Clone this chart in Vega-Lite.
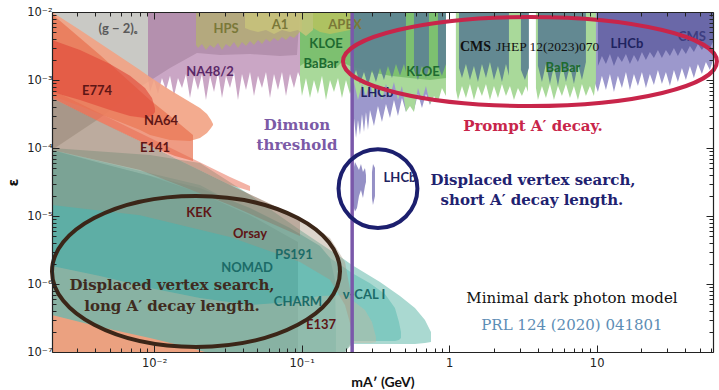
{
"$schema": "https://vega.github.io/schema/vega-lite/v6.json",
"width": 661, "height": 340,
"autosize": {"type": "none"},
"padding": {"left": 52, "top": 12, "right": 6, "bottom": 38},
"background": "white",
"config": {"view": {"stroke": null}},
"datasets": {"regions": [
{"id":"vcal_out","x":0.00203,"y":1.0e-4,"y2":1e-7},{"id":"vcal_out","x":0.009374,"y":7.89e-5,"y2":1e-7},{"id":"vcal_out","x":0.02046,"y":6.02e-5,"y2":1e-7},{"id":"vcal_out","x":0.04466,"y":2.03e-5,"y2":1e-7},{"id":"vcal_out","x":0.09747,"y":6.22e-6,"y2":1e-7},{"id":"vcal_out","x":0.1967,"y":2.25e-6,"y2":1e-7},{"id":"vcal_out","x":0.2194,"y":1.9e-6,"y2":1.31e-7},{"id":"vcal_out","x":0.3397,"y":1.07e-6,"y2":1.31e-7},{"id":"vcal_out","x":0.4642,"y":6.66e-7,"y2":1.31e-7},{"id":"vcal_out","x":0.5866,"y":4.44e-7,"y2":1.31e-7},{"id":"vcal_out","x":0.6856,"y":2.96e-7,"y2":1.36e-7},{"id":"vcal_out","x":0.753,"y":1.97e-7,"y2":1.4e-7},
{"id":"vcal_in","x":0.00203,"y":9.35e-5,"y2":1e-7},{"id":"vcal_in","x":0.02046,"y":2.86e-5,"y2":1e-7},{"id":"vcal_in","x":0.09747,"y":4.75e-6,"y2":1e-7},{"id":"vcal_in","x":0.1967,"y":1.72e-6,"y2":1e-7},{"id":"vcal_in","x":0.2194,"y":1.45e-6,"y2":1.45e-7},{"id":"vcal_in","x":0.2906,"y":1.03e-6,"y2":1.45e-7},{"id":"vcal_in","x":0.3672,"y":7.13e-7,"y2":1.45e-7},{"id":"vcal_in","x":0.4292,"y":4.44e-7,"y2":1.45e-7},{"id":"vcal_in","x":0.4569,"y":2.76e-7,"y2":1.5e-7},{"id":"vcal_in","x":0.4715,"y":1.97e-7,"y2":1.61e-7},
{"id":"charm","x":0.00203,"y":8.73e-5,"y2":1e-7},{"id":"charm","x":0.02046,"y":2.58e-5,"y2":1e-7},{"id":"charm","x":0.04466,"y":1.31e-5,"y2":1e-7},{"id":"charm","x":0.08338,"y":6.66e-6,"y2":1e-7},{"id":"charm","x":0.1332,"y":3.62e-6,"y2":1e-7},{"id":"charm","x":0.1557,"y":2.41e-6,"y2":1e-7},{"id":"charm","x":0.1683,"y":1.15e-6,"y2":1e-7},{"id":"charm","x":0.1709,"y":2.11e-7,"y2":1e-7},
{"id":"teal_main","x":0.00203,"y":9.35e-5,"y2":1e-7},{"id":"teal_main","x":0.004295,"y":6.02e-5,"y2":1e-7},{"id":"teal_main","x":0.009374,"y":3.88e-5,"y2":1e-7},{"id":"teal_main","x":0.02046,"y":2.18e-5,"y2":1e-7},{"id":"teal_main","x":0.04466,"y":1.03e-5,"y2":1e-7},{"id":"teal_main","x":0.07133,"y":5.82e-6,"y2":1e-7},{"id":"teal_main","x":0.09446,"y":4.15e-6,"y2":1e-7},
{"id":"e137","x":0.00203,"y":1.84e-6,"y2":1e-7},{"id":"e137","x":0.004295,"y":1.31e-6,"y2":1e-7},{"id":"e137","x":0.009374,"y":8.73e-7,"y2":1e-7},{"id":"e137","x":0.02046,"y":6.22e-7,"y2":1e-7},{"id":"e137","x":0.04466,"y":4.91e-7,"y2":1e-7},{"id":"e137","x":0.08338,"y":5.44e-7,"y2":1e-7},{"id":"e137","x":0.1332,"y":6.66e-7,"y2":1e-7},{"id":"e137","x":0.1967,"y":6.89e-7,"y2":1e-7},{"id":"e137","x":0.2194,"y":5.82e-7,"y2":1.36e-7},{"id":"e137","x":0.2688,"y":4.15e-7,"y2":1.36e-7},{"id":"e137","x":0.2998,"y":2.76e-7,"y2":1.36e-7},{"id":"e137","x":0.3191,"y":1.66e-7,"y2":1.4e-7},
{"id":"salmon","x":0.00203,"y":3.5e-7,"y2":1e-7},{"id":"salmon","x":0.004295,"y":2.33e-7,"y2":1e-7},{"id":"salmon","x":0.009374,"y":1.61e-7,"y2":1e-7},{"id":"salmon","x":0.0175,"y":1.15e-7,"y2":1e-7},{"id":"salmon","x":0.02211,"y":1e-7,"y2":1e-7},
{"id":"g2","x":0.00203,"y":0.01,"y2":9.35e-5},{"id":"g2","x":0.004295,"y":0.01,"y2":2.76e-4},{"id":"g2","x":0.00802,"y":0.01,"y2":7.89e-4},{"id":"g2","x":0.009086,"y":0.01,"y2":9.35e-4},{"id":"g2","x":0.01281,"y":0.01,"y2":1.5e-3},{"id":"g2","x":0.01952,"y":0.01,"y2":2.49e-3},{"id":"g2","x":0.02796,"y":0.01,"y2":2.33e-3},{"id":"g2","x":0.04466,"y":0.01,"y2":2.41e-3},{"id":"g2","x":0.07133,"y":0.01,"y2":2.25e-3},{"id":"g2","x":0.093,"y":0.01,"y2":2.33e-3},{"id":"g2","x":0.09747,"y":0.01,"y2":0.01},
{"id":"tanband","x":0.00203,"y":5.44e-4,"y2":1.45e-5},{"id":"tanband","x":0.00802,"y":1.27e-4,"y2":1.03e-5},{"id":"tanband","x":0.03268,"y":2.86e-5,"y2":4.91e-6},{"id":"tanband","x":0.09747,"y":9.35e-6,"y2":2.11e-6},{"id":"tanband","x":0.1557,"y":4.75e-6,"y2":1.15e-6},{"id":"tanband","x":0.1967,"y":2.11e-6,"y2":4.91e-7},{"id":"tanband","x":0.2194,"y":5.82e-7,"y2":2.11e-7},
{"id":"kek","x":0.00203,"y":5.44e-4,"y2":9.35e-5},{"id":"kek","x":0.00802,"y":1.27e-4,"y2":4.75e-5},{"id":"kek","x":0.03268,"y":2.86e-5,"y2":1.45e-5},{"id":"kek","x":0.09747,"y":9.35e-6,"y2":5.08e-6},
{"id":"na48","x":0.009086,"y":0.01,"y2":1.07e-3},{"id":"na48","x":0.009374,"y":0.01,"y2":6.66e-4},{"id":"na48","x":0.009978,"y":0.01,"y2":1.0e-3},{"id":"na48","x":0.01062,"y":0.01,"y2":6.22e-4},{"id":"na48","x":0.0113,"y":0.01,"y2":1.07e-3},{"id":"na48","x":0.01203,"y":0.01,"y2":7.13e-4},{"id":"na48","x":0.01281,"y":0.01,"y2":1.15e-3},{"id":"na48","x":0.01363,"y":0.01,"y2":5.82e-4},{"id":"na48","x":0.01451,"y":0.01,"y2":1.07e-3},{"id":"na48","x":0.01545,"y":0.01,"y2":7.63e-4},{"id":"na48","x":0.01644,"y":0.01,"y2":1.23e-3},{"id":"na48","x":0.0175,"y":0.01,"y2":5.44e-4},{"id":"na48","x":0.01863,"y":0.01,"y2":1.15e-3},{"id":"na48","x":0.01983,"y":0.01,"y2":7.13e-4},{"id":"na48","x":0.0211,"y":0.01,"y2":1.23e-3},{"id":"na48","x":0.02246,"y":0.01,"y2":5.08e-4},{"id":"na48","x":0.02392,"y":0.01,"y2":1.15e-3},{"id":"na48","x":0.02546,"y":0.01,"y2":6.66e-4},{"id":"na48","x":0.0271,"y":0.01,"y2":1.31e-3},{"id":"na48","x":0.02884,"y":0.01,"y2":5.44e-4},{"id":"na48","x":0.0307,"y":0.01,"y2":1.15e-3},{"id":"na48","x":0.03268,"y":0.01,"y2":7.63e-4},{"id":"na48","x":0.03478,"y":0.01,"y2":1.31e-3},{"id":"na48","x":0.03702,"y":0.01,"y2":5.08e-4},{"id":"na48","x":0.03941,"y":0.01,"y2":1.23e-3},{"id":"na48","x":0.04195,"y":0.01,"y2":7.13e-4},{"id":"na48","x":0.04466,"y":0.01,"y2":1.31e-3},{"id":"na48","x":0.04753,"y":0.01,"y2":5.82e-4},{"id":"na48","x":0.05059,"y":0.01,"y2":1.15e-3},{"id":"na48","x":0.05385,"y":0.01,"y2":7.63e-4},{"id":"na48","x":0.05732,"y":0.01,"y2":1.31e-3},{"id":"na48","x":0.06102,"y":0.01,"y2":5.44e-4},{"id":"na48","x":0.06494,"y":0.01,"y2":1.23e-3},{"id":"na48","x":0.06913,"y":0.01,"y2":7.13e-4},{"id":"na48","x":0.07358,"y":0.01,"y2":1.31e-3},{"id":"na48","x":0.07832,"y":0.01,"y2":5.82e-4},{"id":"na48","x":0.08338,"y":0.01,"y2":1.23e-3},{"id":"na48","x":0.08874,"y":0.01,"y2":7.63e-4},{"id":"na48","x":0.09446,"y":0.01,"y2":1.31e-3},{"id":"na48","x":0.1005,"y":0.01,"y2":9.35e-4},{"id":"na48","x":0.107,"y":0.01,"y2":1.4e-3},
{"id":"lhcb_light","seg":"a","x":0.2194,"y":0.01,"y2":1.31e-4},{"id":"lhcb_light","seg":"a","x":0.2264,"y":0.01,"y2":2.76e-4},{"id":"lhcb_light","seg":"a","x":0.2337,"y":0.01,"y2":1.4e-4},{"id":"lhcb_light","seg":"a","x":0.241,"y":0.01,"y2":2.58e-4},{"id":"lhcb_light","seg":"a","x":0.2486,"y":0.01,"y2":1.55e-4},{"id":"lhcb_light","seg":"a","x":0.2565,"y":0.01,"y2":3.16e-4},{"id":"lhcb_light","seg":"a","x":0.2647,"y":0.01,"y2":1.72e-4},{"id":"lhcb_light","seg":"a","x":0.273,"y":0.01,"y2":3.38e-4},{"id":"lhcb_light","seg":"a","x":0.2817,"y":0.01,"y2":1.84e-4},{"id":"lhcb_light","seg":"a","x":0.2906,"y":0.01,"y2":3.62e-4},{"id":"lhcb_light","seg":"a","x":0.3093,"y":0.01,"y2":2.11e-4},{"id":"lhcb_light","seg":"a","x":0.3292,"y":0.01,"y2":4.15e-4},{"id":"lhcb_light","seg":"a","x":0.3504,"y":0.01,"y2":2.41e-4},{"id":"lhcb_light","seg":"a","x":0.373,"y":0.01,"y2":4.44e-4},{"id":"lhcb_light","seg":"a","x":0.3971,"y":0.01,"y2":2.76e-4},{"id":"lhcb_light","seg":"a","x":0.4226,"y":0.01,"y2":5.08e-4},{"id":"lhcb_light","seg":"a","x":0.4498,"y":0.01,"y2":2.96e-4},{"id":"lhcb_light","seg":"a","x":0.4788,"y":0.01,"y2":5.44e-4},{"id":"lhcb_light","seg":"a","x":0.5097,"y":0.01,"y2":3.38e-4},{"id":"lhcb_light","seg":"a","x":0.5426,"y":0.01,"y2":5.82e-4},{"id":"lhcb_light","seg":"a","x":0.5775,"y":0.01,"y2":3.62e-4},{"id":"lhcb_light","seg":"a","x":0.6147,"y":0.01,"y2":6.22e-4},{"id":"lhcb_light","seg":"a","x":0.6543,"y":0.01,"y2":3.88e-4},{"id":"lhcb_light","seg":"a","x":0.6964,"y":0.01,"y2":6.22e-4},{"id":"lhcb_light","seg":"a","x":0.7413,"y":0.01,"y2":4.29e-4},{"id":"lhcb_light","seg":"a","x":0.8666,"y":0.01,"y2":1.0e-3},{"id":"lhcb_light","seg":"a","x":0.9515,"y":0.01,"y2":1.0e-3},
{"id":"lhcb_light","seg":"b","x":1.112,"y":0.01,"y2":1.0e-3},{"id":"lhcb_light","seg":"b","x":3.422,"y":0.01,"y2":1.0e-3},
{"id":"lhcb_light","seg":"c","x":3.877,"y":0.01,"y2":1.0e-3},{"id":"lhcb_light","seg":"c","x":9.586,"y":0.01,"y2":1.0e-3},{"id":"lhcb_light","seg":"c","x":10.2,"y":0.01,"y2":6.66e-4},{"id":"lhcb_light","seg":"c","x":10.86,"y":0.01,"y2":1.15e-3},{"id":"lhcb_light","seg":"c","x":11.56,"y":0.01,"y2":7.13e-4},{"id":"lhcb_light","seg":"c","x":12.31,"y":0.01,"y2":1.23e-3},{"id":"lhcb_light","seg":"c","x":13.1,"y":0.01,"y2":6.66e-4},{"id":"lhcb_light","seg":"c","x":13.94,"y":0.01,"y2":1.15e-3},{"id":"lhcb_light","seg":"c","x":14.84,"y":0.01,"y2":7.63e-4},{"id":"lhcb_light","seg":"c","x":15.8,"y":0.01,"y2":1.31e-3},{"id":"lhcb_light","seg":"c","x":16.81,"y":0.01,"y2":7.13e-4},{"id":"lhcb_light","seg":"c","x":17.9,"y":0.01,"y2":1.23e-3},{"id":"lhcb_light","seg":"c","x":19.05,"y":0.01,"y2":8.16e-4},{"id":"lhcb_light","seg":"c","x":20.28,"y":0.01,"y2":1.31e-3},{"id":"lhcb_light","seg":"c","x":21.58,"y":0.01,"y2":7.63e-4},{"id":"lhcb_light","seg":"c","x":22.97,"y":0.01,"y2":1.23e-3},{"id":"lhcb_light","seg":"c","x":24.45,"y":0.01,"y2":8.44e-4},{"id":"lhcb_light","seg":"c","x":26.03,"y":0.01,"y2":1.4e-3},{"id":"lhcb_light","seg":"c","x":27.7,"y":0.01,"y2":8.73e-4},{"id":"lhcb_light","seg":"c","x":29.49,"y":0.01,"y2":1.31e-3},{"id":"lhcb_light","seg":"c","x":31.39,"y":0.01,"y2":8.16e-4},{"id":"lhcb_light","seg":"c","x":33.41,"y":0.01,"y2":1.4e-3},{"id":"lhcb_light","seg":"c","x":35.56,"y":0.01,"y2":9.35e-4},{"id":"lhcb_light","seg":"c","x":37.85,"y":0.01,"y2":1.5e-3},{"id":"lhcb_light","seg":"c","x":40.29,"y":0.01,"y2":1.0e-3},{"id":"lhcb_light","seg":"c","x":42.89,"y":0.01,"y2":1.61e-3},{"id":"lhcb_light","seg":"c","x":45.65,"y":0.01,"y2":1.07e-3},{"id":"lhcb_light","seg":"c","x":48.59,"y":0.01,"y2":1.72e-3},{"id":"lhcb_light","seg":"c","x":51.72,"y":0.01,"y2":1.23e-3},{"id":"lhcb_light","seg":"c","x":55.05,"y":0.01,"y2":1.84e-3},{"id":"lhcb_light","seg":"c","x":58.6,"y":0.01,"y2":1.4e-3},{"id":"lhcb_light","seg":"c","x":61.5,"y":0.01,"y2":1.97e-3},
{"id":"babar","seg":"a","x":0.09747,"y":0.01,"y2":1.0e-3},{"id":"babar","seg":"a","x":0.1005,"y":0.01,"y2":5.82e-4},{"id":"babar","seg":"a","x":0.107,"y":0.01,"y2":1.07e-3},{"id":"babar","seg":"a","x":0.1139,"y":0.01,"y2":5.44e-4},{"id":"babar","seg":"a","x":0.1212,"y":0.01,"y2":1.0e-3},{"id":"babar","seg":"a","x":0.129,"y":0.01,"y2":6.22e-4},{"id":"babar","seg":"a","x":0.1374,"y":0.01,"y2":1.15e-3},{"id":"babar","seg":"a","x":0.1462,"y":0.01,"y2":5.08e-4},{"id":"babar","seg":"a","x":0.1557,"y":0.01,"y2":1.0e-3},{"id":"babar","seg":"a","x":0.1657,"y":0.01,"y2":6.66e-4},{"id":"babar","seg":"a","x":0.1764,"y":0.01,"y2":1.07e-3},{"id":"babar","seg":"a","x":0.1877,"y":0.01,"y2":5.44e-4},{"id":"babar","seg":"a","x":0.1998,"y":0.01,"y2":1.0e-3},{"id":"babar","seg":"a","x":0.2127,"y":0.01,"y2":6.22e-4},{"id":"babar","seg":"a","x":0.2264,"y":0.01,"y2":9.35e-4},{"id":"babar","seg":"a","x":0.241,"y":0.01,"y2":5.08e-4},{"id":"babar","seg":"a","x":0.2565,"y":0.01,"y2":8.73e-4},{"id":"babar","seg":"a","x":0.273,"y":0.01,"y2":5.82e-4},{"id":"babar","seg":"a","x":0.2906,"y":0.01,"y2":9.35e-4},{"id":"babar","seg":"a","x":0.3093,"y":0.01,"y2":5.44e-4},{"id":"babar","seg":"a","x":0.3292,"y":0.01,"y2":8.73e-4},{"id":"babar","seg":"a","x":0.3504,"y":0.01,"y2":5.08e-4},{"id":"babar","seg":"a","x":0.373,"y":0.01,"y2":8.73e-4},{"id":"babar","seg":"a","x":0.3971,"y":0.01,"y2":5.82e-4},{"id":"babar","seg":"a","x":0.4226,"y":0.01,"y2":9.35e-4},{"id":"babar","seg":"a","x":0.4498,"y":0.01,"y2":5.08e-4},{"id":"babar","seg":"a","x":0.4788,"y":0.01,"y2":8.16e-4},{"id":"babar","seg":"a","x":0.5097,"y":0.01,"y2":3.38e-4},{"id":"babar","seg":"a","x":0.5426,"y":0.01,"y2":4.15e-4},{"id":"babar","seg":"a","x":0.5775,"y":0.01,"y2":3.38e-4},{"id":"babar","seg":"a","x":0.6147,"y":0.01,"y2":7.63e-4},{"id":"babar","seg":"a","x":0.6543,"y":0.01,"y2":5.08e-4},{"id":"babar","seg":"a","x":0.6964,"y":0.01,"y2":8.16e-4},{"id":"babar","seg":"a","x":0.7413,"y":0.01,"y2":4.44e-4},{"id":"babar","seg":"a","x":0.789,"y":0.01,"y2":5.82e-4},{"id":"babar","seg":"a","x":0.8399,"y":0.01,"y2":4.75e-4},{"id":"babar","seg":"a","x":0.8939,"y":0.01,"y2":7.63e-4},{"id":"babar","seg":"a","x":0.9515,"y":0.01,"y2":5.82e-4},
{"id":"babar","seg":"b","x":1.112,"y":0.01,"y2":7.13e-4},{"id":"babar","seg":"b","x":1.148,"y":0.01,"y2":5.08e-4},{"id":"babar","seg":"b","x":1.222,"y":0.01,"y2":8.16e-4},{"id":"babar","seg":"b","x":1.3,"y":0.01,"y2":5.44e-4},{"id":"babar","seg":"b","x":1.384,"y":0.01,"y2":8.73e-4},{"id":"babar","seg":"b","x":1.473,"y":0.01,"y2":5.08e-4},{"id":"babar","seg":"b","x":1.568,"y":0.01,"y2":8.16e-4},{"id":"babar","seg":"b","x":1.669,"y":0.01,"y2":5.82e-4},{"id":"babar","seg":"b","x":1.777,"y":0.01,"y2":8.73e-4},{"id":"babar","seg":"b","x":1.891,"y":0.01,"y2":5.08e-4},{"id":"babar","seg":"b","x":2.013,"y":0.01,"y2":8.16e-4},{"id":"babar","seg":"b","x":2.143,"y":0.01,"y2":5.44e-4},{"id":"babar","seg":"b","x":2.281,"y":0.01,"y2":8.73e-4},{"id":"babar","seg":"b","x":2.428,"y":0.01,"y2":5.82e-4},{"id":"babar","seg":"b","x":2.584,"y":0.01,"y2":8.16e-4},{"id":"babar","seg":"b","x":2.751,"y":0.01,"y2":5.08e-4},{"id":"babar","seg":"b","x":2.928,"y":0.01,"y2":7.63e-4},{"id":"babar","seg":"b","x":3.116,"y":0.01,"y2":5.82e-4},{"id":"babar","seg":"b","x":3.317,"y":0.01,"y2":8.16e-4},{"id":"babar","seg":"b","x":3.422,"y":0.01,"y2":6.66e-4},
{"id":"babar","seg":"c","x":3.877,"y":0.01,"y2":7.63e-4},{"id":"babar","seg":"c","x":4.0,"y":0.01,"y2":5.08e-4},{"id":"babar","seg":"c","x":4.258,"y":0.01,"y2":8.16e-4},{"id":"babar","seg":"c","x":4.532,"y":0.01,"y2":5.44e-4},{"id":"babar","seg":"c","x":4.824,"y":0.01,"y2":8.73e-4},{"id":"babar","seg":"c","x":5.135,"y":0.01,"y2":5.08e-4},{"id":"babar","seg":"c","x":5.466,"y":0.01,"y2":8.16e-4},{"id":"babar","seg":"c","x":5.818,"y":0.01,"y2":5.82e-4},{"id":"babar","seg":"c","x":6.193,"y":0.01,"y2":8.73e-4},{"id":"babar","seg":"c","x":6.592,"y":0.01,"y2":5.44e-4},{"id":"babar","seg":"c","x":7.016,"y":0.01,"y2":8.16e-4},{"id":"babar","seg":"c","x":7.468,"y":0.01,"y2":5.08e-4},{"id":"babar","seg":"c","x":7.949,"y":0.01,"y2":8.73e-4},{"id":"babar","seg":"c","x":8.461,"y":0.01,"y2":5.82e-4},{"id":"babar","seg":"c","x":9.006,"y":0.01,"y2":8.16e-4},{"id":"babar","seg":"c","x":9.586,"y":0.01,"y2":5.82e-4},{"id":"babar","seg":"c","x":9.89,"y":0.01,"y2":1.0e-3},
{"id":"kloe","x":0.09747,"y":0.01,"y2":1.61e-3},{"id":"kloe","x":0.107,"y":0.01,"y2":1.84e-3},{"id":"kloe","x":0.1175,"y":0.01,"y2":1.5e-3},{"id":"kloe","x":0.129,"y":0.01,"y2":1.97e-3},{"id":"kloe","x":0.1418,"y":0.01,"y2":1.61e-3},{"id":"kloe","x":0.1557,"y":0.01,"y2":1.84e-3},{"id":"kloe","x":0.1709,"y":0.01,"y2":1.5e-3},{"id":"kloe","x":0.1877,"y":0.01,"y2":1.84e-3},{"id":"kloe","x":0.2127,"y":0.01,"y2":1.61e-3},{"id":"kloe","x":0.2906,"y":0.01,"y2":1.31e-3},{"id":"kloe","x":0.3971,"y":0.01,"y2":1.15e-3},{"id":"kloe","x":0.5426,"y":0.01,"y2":1.07e-3},{"id":"kloe","x":0.7413,"y":0.01,"y2":1.0e-3},{"id":"kloe","x":0.9515,"y":0.01,"y2":1.07e-3},
{"id":"hps","x":0.01922,"y":0.01,"y2":3.27e-3},{"id":"hps","x":0.01983,"y":0.01,"y2":2.96e-3},{"id":"hps","x":0.0211,"y":0.01,"y2":3.38e-3},{"id":"hps","x":0.02246,"y":0.01,"y2":2.76e-3},{"id":"hps","x":0.02392,"y":0.01,"y2":3.27e-3},{"id":"hps","x":0.02546,"y":0.01,"y2":2.96e-3},{"id":"hps","x":0.0271,"y":0.01,"y2":3.5e-3},{"id":"hps","x":0.02884,"y":0.01,"y2":2.76e-3},{"id":"hps","x":0.0307,"y":0.01,"y2":3.38e-3},{"id":"hps","x":0.03268,"y":0.01,"y2":3.06e-3},{"id":"hps","x":0.03478,"y":0.01,"y2":3.62e-3},{"id":"hps","x":0.03702,"y":0.01,"y2":2.96e-3},{"id":"hps","x":0.03941,"y":0.01,"y2":3.62e-3},{"id":"hps","x":0.04195,"y":0.01,"y2":3.16e-3},{"id":"hps","x":0.04466,"y":0.01,"y2":3.75e-3},{"id":"hps","x":0.04753,"y":0.01,"y2":3.27e-3},{"id":"hps","x":0.05059,"y":0.01,"y2":3.88e-3},{"id":"hps","x":0.05385,"y":0.01,"y2":3.38e-3},{"id":"hps","x":0.05732,"y":0.01,"y2":4.01e-3},{"id":"hps","x":0.06102,"y":0.01,"y2":3.62e-3},{"id":"hps","x":0.06494,"y":0.01,"y2":4.15e-3},{"id":"hps","x":0.06913,"y":0.01,"y2":3.75e-3},{"id":"hps","x":0.07358,"y":0.01,"y2":4.29e-3},{"id":"hps","x":0.07832,"y":0.01,"y2":3.88e-3},{"id":"hps","x":0.08338,"y":0.01,"y2":4.44e-3},{"id":"hps","x":0.08874,"y":0.01,"y2":4.15e-3},{"id":"hps","x":0.09446,"y":0.01,"y2":4.75e-3},{"id":"hps","x":0.1005,"y":0.01,"y2":5.44e-3},
{"id":"a1","x":0.0413,"y":0.01,"y2":5.82e-3},{"id":"a1","x":0.04466,"y":0.01,"y2":5.44e-3},{"id":"a1","x":0.05059,"y":0.01,"y2":5.08e-3},{"id":"a1","x":0.05732,"y":0.01,"y2":5.44e-3},{"id":"a1","x":0.06494,"y":0.01,"y2":4.75e-3},{"id":"a1","x":0.07358,"y":0.01,"y2":5.44e-3},{"id":"a1","x":0.08338,"y":0.01,"y2":5.08e-3},{"id":"a1","x":0.09446,"y":0.01,"y2":5.44e-3},{"id":"a1","x":0.107,"y":0.01,"y2":4.44e-3},{"id":"a1","x":0.1194,"y":0.01,"y2":5.44e-3},
{"id":"apex","x":0.1194,"y":0.01,"y2":5.82e-3},{"id":"apex","x":0.1332,"y":0.01,"y2":5.08e-3},{"id":"apex","x":0.1557,"y":0.01,"y2":4.75e-3},{"id":"apex","x":0.182,"y":0.01,"y2":5.08e-3},{"id":"apex","x":0.2127,"y":0.01,"y2":5.44e-3},{"id":"apex","x":0.2194,"y":0.01,"y2":5.44e-3},
{"id":"cms","seg":"1","x":0.2194,"y":0.01,"y2":9.35e-4},{"id":"cms","seg":"1","x":0.2337,"y":0.01,"y2":1.4e-3},{"id":"cms","seg":"1","x":0.2486,"y":0.01,"y2":8.73e-4},{"id":"cms","seg":"1","x":0.2647,"y":0.01,"y2":1.31e-3},{"id":"cms","seg":"1","x":0.2817,"y":0.01,"y2":8.16e-4},{"id":"cms","seg":"1","x":0.2998,"y":0.01,"y2":1.4e-3},{"id":"cms","seg":"1","x":0.3191,"y":0.01,"y2":9.35e-4},{"id":"cms","seg":"1","x":0.3397,"y":0.01,"y2":1.5e-3},{"id":"cms","seg":"1","x":0.3615,"y":0.01,"y2":1.0e-3},{"id":"cms","seg":"1","x":0.3849,"y":0.01,"y2":1.61e-3},{"id":"cms","seg":"1","x":0.4097,"y":0.01,"y2":1.07e-3},{"id":"cms","seg":"1","x":0.4361,"y":0.01,"y2":1.72e-3},{"id":"cms","seg":"1","x":0.4642,"y":0.01,"y2":1.15e-3},{"id":"cms","seg":"1","x":0.4941,"y":0.01,"y2":1.72e-3},{"id":"cms","seg":"1","x":0.5097,"y":0.01,"y2":1.31e-3},
{"id":"cms","seg":"2","x":0.5775,"y":0.01,"y2":1.4e-3},{"id":"cms","seg":"2","x":0.6147,"y":0.01,"y2":1.0e-3},{"id":"cms","seg":"2","x":0.6543,"y":0.01,"y2":1.61e-3},{"id":"cms","seg":"2","x":0.6964,"y":0.01,"y2":1.07e-3},{"id":"cms","seg":"2","x":0.7298,"y":0.01,"y2":1.5e-3},
{"id":"cms","seg":"3","x":0.8399,"y":0.01,"y2":1.61e-3},{"id":"cms","seg":"3","x":0.8939,"y":0.01,"y2":1.15e-3},{"id":"cms","seg":"3","x":0.9515,"y":0.01,"y2":1.72e-3},
{"id":"cms","seg":"4","x":1.166,"y":0.01,"y2":1.5e-3},{"id":"cms","seg":"4","x":1.222,"y":0.01,"y2":1.07e-3},{"id":"cms","seg":"4","x":1.3,"y":0.01,"y2":1.72e-3},{"id":"cms","seg":"4","x":1.384,"y":0.01,"y2":1.0e-3},{"id":"cms","seg":"4","x":1.473,"y":0.01,"y2":1.61e-3},{"id":"cms","seg":"4","x":1.568,"y":0.01,"y2":9.35e-4},{"id":"cms","seg":"4","x":1.669,"y":0.01,"y2":1.72e-3},{"id":"cms","seg":"4","x":1.777,"y":0.01,"y2":1.07e-3},{"id":"cms","seg":"4","x":1.891,"y":0.01,"y2":1.84e-3},{"id":"cms","seg":"4","x":2.013,"y":0.01,"y2":1.0e-3},{"id":"cms","seg":"4","x":2.143,"y":0.01,"y2":1.61e-3},{"id":"cms","seg":"4","x":2.281,"y":0.01,"y2":9.35e-4},{"id":"cms","seg":"4","x":2.428,"y":0.01,"y2":1.72e-3},{"id":"cms","seg":"4","x":2.544,"y":0.01,"y2":1.15e-3},
{"id":"cms","seg":"5","x":3.068,"y":0.01,"y2":1.4e-3},{"id":"cms","seg":"5","x":3.265,"y":0.01,"y2":1.0e-3},{"id":"cms","seg":"5","x":3.474,"y":0.01,"y2":1.5e-3},
{"id":"cms","seg":"6","x":4.0,"y":0.01,"y2":1.61e-3},{"id":"cms","seg":"6","x":4.258,"y":0.01,"y2":9.35e-4},{"id":"cms","seg":"6","x":4.532,"y":0.01,"y2":1.72e-3},{"id":"cms","seg":"6","x":4.824,"y":0.01,"y2":8.73e-4},{"id":"cms","seg":"6","x":5.135,"y":0.01,"y2":1.61e-3},{"id":"cms","seg":"6","x":5.466,"y":0.01,"y2":8.16e-4},{"id":"cms","seg":"6","x":5.818,"y":0.01,"y2":1.72e-3},{"id":"cms","seg":"6","x":6.193,"y":0.01,"y2":9.35e-4},{"id":"cms","seg":"6","x":6.592,"y":0.01,"y2":1.61e-3},{"id":"cms","seg":"6","x":7.016,"y":0.01,"y2":8.73e-4},{"id":"cms","seg":"6","x":7.468,"y":0.01,"y2":1.72e-3},{"id":"cms","seg":"6","x":7.949,"y":0.01,"y2":1.0e-3},{"id":"cms","seg":"6","x":8.461,"y":0.01,"y2":1.84e-3},
{"id":"lhcb_dark","x":10.2,"y":0.01,"y2":1.61e-3},{"id":"lhcb_dark","x":10.86,"y":0.01,"y2":2.25e-3},{"id":"lhcb_dark","x":11.56,"y":0.01,"y2":1.72e-3},{"id":"lhcb_dark","x":12.31,"y":0.01,"y2":2.41e-3},{"id":"lhcb_dark","x":13.1,"y":0.01,"y2":1.61e-3},{"id":"lhcb_dark","x":13.94,"y":0.01,"y2":2.25e-3},{"id":"lhcb_dark","x":14.84,"y":0.01,"y2":1.84e-3},{"id":"lhcb_dark","x":15.8,"y":0.01,"y2":2.41e-3},{"id":"lhcb_dark","x":16.81,"y":0.01,"y2":1.72e-3},{"id":"lhcb_dark","x":17.9,"y":0.01,"y2":2.33e-3},{"id":"lhcb_dark","x":19.05,"y":0.01,"y2":1.84e-3},{"id":"lhcb_dark","x":20.28,"y":0.01,"y2":2.58e-3},{"id":"lhcb_dark","x":21.58,"y":0.01,"y2":1.97e-3},{"id":"lhcb_dark","x":22.97,"y":0.01,"y2":2.58e-3},{"id":"lhcb_dark","x":24.45,"y":0.01,"y2":2.11e-3},{"id":"lhcb_dark","x":26.03,"y":0.01,"y2":2.76e-3},{"id":"lhcb_dark","x":27.7,"y":0.01,"y2":2.11e-3},{"id":"lhcb_dark","x":29.49,"y":0.01,"y2":2.76e-3},{"id":"lhcb_dark","x":31.39,"y":0.01,"y2":2.25e-3},{"id":"lhcb_dark","x":33.41,"y":0.01,"y2":2.96e-3},{"id":"lhcb_dark","x":35.56,"y":0.01,"y2":2.25e-3},{"id":"lhcb_dark","x":37.85,"y":0.01,"y2":2.96e-3},{"id":"lhcb_dark","x":40.29,"y":0.01,"y2":2.41e-3},{"id":"lhcb_dark","x":42.89,"y":0.01,"y2":3.16e-3},{"id":"lhcb_dark","x":45.65,"y":0.01,"y2":2.58e-3},{"id":"lhcb_dark","x":48.59,"y":0.01,"y2":3.38e-3},{"id":"lhcb_dark","x":51.72,"y":0.01,"y2":2.76e-3},{"id":"lhcb_dark","x":55.05,"y":0.01,"y2":3.38e-3},{"id":"lhcb_dark","x":58.6,"y":0.01,"y2":2.96e-3},{"id":"lhcb_dark","x":61.5,"y":0.01,"y2":3.62e-3},
{"id":"lhcb_disp","seg":"a","x":0.2229,"y":4.44e-5,"y2":1.45e-5},{"id":"lhcb_disp","seg":"a","x":0.23,"y":6.22e-5,"y2":1.16e-5},{"id":"lhcb_disp","seg":"a","x":0.2373,"y":5.44e-5,"y2":1.31e-5},{"id":"lhcb_disp","seg":"a","x":0.2448,"y":4.75e-5,"y2":1.97e-5},{"id":"lhcb_disp","seg":"a","x":0.2525,"y":5.82e-5,"y2":2.41e-5},{"id":"lhcb_disp","seg":"a","x":0.2605,"y":4.44e-5,"y2":1.84e-5},{"id":"lhcb_disp","seg":"a","x":0.2688,"y":5.08e-5,"y2":2.76e-5},{"id":"lhcb_disp","seg":"a","x":0.273,"y":4.01e-5,"y2":3.16e-5},
{"id":"lhcb_disp","seg":"b","x":0.2998,"y":4.44e-5,"y2":1.84e-5},{"id":"lhcb_disp","seg":"b","x":0.3045,"y":5.82e-5,"y2":1.45e-5},{"id":"lhcb_disp","seg":"b","x":0.3142,"y":5.08e-5,"y2":1.97e-5},
{"id":"na64","x":0.00203,"y":0.01,"y2":5.82e-4},{"id":"na64","x":0.003143,"y":5.44e-3,"y2":4.15e-4},{"id":"na64","x":0.005021,"y":2.76e-3,"y2":2.76e-4},{"id":"na64","x":0.00802,"y":1.4e-3,"y2":1.84e-4},{"id":"na64","x":0.009374,"y":1.11e-3,"y2":1.55e-4},{"id":"na64","x":0.01281,"y":7.13e-4,"y2":1.31e-4},{"id":"na64","x":0.0175,"y":4.75e-4,"y2":1.27e-4},{"id":"na64","x":0.02046,"y":3.88e-4,"y2":1.4e-4},{"id":"na64","x":0.02282,"y":3.16e-4,"y2":1.66e-4},{"id":"na64","x":0.0243,"y":2.58e-4,"y2":1.97e-4},{"id":"na64","x":0.02507,"y":2.25e-4,"y2":2.18e-4},
{"id":"e141","x":0.00203,"y":9.35e-3,"y2":5.44e-4},{"id":"e141","x":0.004295,"y":2.33e-3,"y2":2.41e-4},{"id":"e141","x":0.009374,"y":5.08e-4,"y2":1.07e-4},{"id":"e141","x":0.01385,"y":2.58e-4,"y2":7.63e-5},{"id":"e141","x":0.01834,"y":1.55e-4,"y2":6.44e-5},
{"id":"e774","x":0.00203,"y":3.88e-3,"y2":6.66e-4},{"id":"e774","x":0.003143,"y":2.76e-3,"y2":5.08e-4},{"id":"e774","x":0.005021,"y":1.72e-3,"y2":3.62e-4},{"id":"e774","x":0.006861,"y":1.15e-3,"y2":2.96e-4},{"id":"e774","x":0.00867,"y":7.63e-4,"y2":2.76e-4},{"id":"e774","x":0.00967,"y":5.44e-4,"y2":2.96e-4},{"id":"e774","x":0.01013,"y":3.88e-4,"y2":3.38e-4},
{"id":"stripe","x":0.00203,"y":7.13e-4,"y2":5.44e-4},{"id":"stripe","x":0.00802,"y":1.66e-4,"y2":1.27e-4},{"id":"stripe","x":0.03268,"y":3.75e-5,"y2":2.86e-5},{"id":"stripe","x":0.04466,"y":2.76e-5,"y2":2.33e-5}
]},
"data": {"name": "regions"},
"encoding": {
"x": {"field": "x", "type": "quantitative", "scale": {"type": "log", "domain": [0.00203, 61.5], "nice": false}, "axis": null},
"y": {"field": "y", "type": "quantitative", "scale": {"type": "log", "domain": [1e-7, 0.01], "nice": false}, "axis": null}
},
"resolve": {"axis": {"x": "independent", "y": "independent"}},
"layer": [
{"data": {"values": [{"x": 1, "y": 0.0001}]}, "mark": {"type": "point", "opacity": 0},
 "encoding": {
  "x": {"field": "x", "type": "quantitative", "scale": {"type": "log", "domain": [0.00203, 61.5], "nice": false},
   "axis": {"orient": "bottom", "zindex": 1, "grid": false, "domain": true, "domainColor": "#222", "domainWidth": 1.2,
    "values": [0.003,0.004,0.005,0.006,0.007,0.008,0.009,0.01,0.02,0.03,0.04,0.05,0.06,0.07,0.08,0.09,0.1,0.2,0.3,0.4,0.5,0.6,0.7,0.8,0.9,1,2,3,4,5,6,7,8,9,10,20,30,40,50,60],
    "tickColor": "#222", "tickSize": {"condition": {"test": "abs(log(datum.value)/LN10 - round(log(datum.value)/LN10)) < 0.01", "value": -7}, "value": -4},
    "labelExpr": "abs(log(datum.value)/LN10 - round(log(datum.value)/LN10)) < 0.01 ? (round(log(datum.value)/LN10) == 0 ? '1' : (round(log(datum.value)/LN10) == 1 ? '10' : '10⁻' + ['⁰','¹','²','³','⁴','⁵','⁶','⁷','⁸','⁹'][-round(log(datum.value)/LN10)])) : ''",
    "labelOverlap": false, "labelFlush": false, "labelPadding": 12, "labelFont": "DejaVu Sans", "labelFontSize": 11.5, "labelColor": "#222",
    "title": "mA′ (GeV)", "titleFont": "Lato", "titleFontSize": 14, "titleFontWeight": "bold", "titleColor": "#111", "titlePadding": 4}},
  "y": {"field": "y", "type": "quantitative", "scale": {"type": "log", "domain": [1e-7, 0.01], "nice": false},
   "axis": {"orient": "left", "zindex": 1, "grid": false, "domain": true, "domainColor": "#222", "domainWidth": 1.2,
    "values": [1e-7,2e-7,3e-7,4e-7,5e-7,6e-7,7e-7,8e-7,9e-7,1e-6,2e-6,3e-6,4e-6,5e-6,6e-6,7e-6,8e-6,9e-6,1e-5,2e-5,3e-5,4e-5,5e-5,6e-5,7e-5,8e-5,9e-5,0.0001,0.0002,0.0003,0.0004,0.0005,0.0006,0.0007,0.0008,0.0009,0.001,0.002,0.003,0.004,0.005,0.006,0.007,0.008,0.009,0.01],
    "tickColor": "#222", "tickSize": {"condition": {"test": "abs(log(datum.value)/LN10 - round(log(datum.value)/LN10)) < 0.01", "value": -7}, "value": -4},
    "labelExpr": "abs(log(datum.value)/LN10 - round(log(datum.value)/LN10)) < 0.01 ? '10⁻' + ['⁰','¹','²','³','⁴','⁵','⁶','⁷','⁸','⁹'][-round(log(datum.value)/LN10)] : ''",
    "labelOverlap": false, "labelFlush": false, "labelPadding": 7, "labelFont": "DejaVu Sans", "labelFontSize": 11.5, "labelColor": "#222",
    "title": "ε", "titleFont": "DejaVu Sans", "titleFontSize": 14, "titleFontWeight": "bold", "titleColor": "#111", "titlePadding": 6}}
 }},
{"data": {"values": [{"x": 1, "y": 0.0001}]}, "mark": {"type": "point", "opacity": 0},
 "encoding": {
  "x": {"field": "x", "type": "quantitative", "scale": {"type": "log", "domain": [0.00203, 61.5], "nice": false},
   "axis": {"orient": "top", "zindex": 1, "grid": false, "domain": true, "domainColor": "#222", "domainWidth": 1.2, "labels": false, "title": null,
    "values": [0.003,0.004,0.005,0.006,0.007,0.008,0.009,0.01,0.02,0.03,0.04,0.05,0.06,0.07,0.08,0.09,0.1,0.2,0.3,0.4,0.5,0.6,0.7,0.8,0.9,1,2,3,4,5,6,7,8,9,10,20,30,40,50,60],
    "tickColor": "#222", "tickSize": {"condition": {"test": "abs(log(datum.value)/LN10 - round(log(datum.value)/LN10)) < 0.01", "value": -7}, "value": -4}}},
  "y": {"field": "y", "type": "quantitative", "scale": {"type": "log", "domain": [1e-7, 0.01], "nice": false},
   "axis": {"orient": "right", "zindex": 1, "grid": false, "domain": true, "domainColor": "#222", "domainWidth": 1.2, "labels": false, "title": null,
    "values": [1e-7,2e-7,3e-7,4e-7,5e-7,6e-7,7e-7,8e-7,9e-7,1e-6,2e-6,3e-6,4e-6,5e-6,6e-6,7e-6,8e-6,9e-6,1e-5,2e-5,3e-5,4e-5,5e-5,6e-5,7e-5,8e-5,9e-5,0.0001,0.0002,0.0003,0.0004,0.0005,0.0006,0.0007,0.0008,0.0009,0.001,0.002,0.003,0.004,0.005,0.006,0.007,0.008,0.009,0.01],
    "tickColor": "#222", "tickSize": {"condition": {"test": "abs(log(datum.value)/LN10 - round(log(datum.value)/LN10)) < 0.01", "value": -7}, "value": -4}}}
 }},
{"transform": [{"filter": "datum.id === 'vcal_out'"}], "mark": {"type": "area", "color": "#aad9d1"}, "encoding": {"y2": {"field": "y2"}}},
{"transform": [{"filter": "datum.id === 'vcal_in'"}], "mark": {"type": "area", "color": "#80c9c0"}, "encoding": {"y2": {"field": "y2"}}},
{"transform": [{"filter": "datum.id === 'charm'"}], "mark": {"type": "area", "color": "#6cbdb4"}, "encoding": {"y2": {"field": "y2"}}},
{"transform": [{"filter": "datum.id === 'teal_main'"}], "mark": {"type": "area", "color": "#5eaea5"}, "encoding": {"y2": {"field": "y2"}}},
{"transform": [{"filter": "datum.id === 'e137'"}], "mark": {"type": "area", "color": "#c8b8a0", "opacity": 0.4}, "encoding": {"y2": {"field": "y2"}}},
{"transform": [{"filter": "datum.id === 'salmon'"}], "mark": {"type": "area", "color": "#f0a07e", "opacity": 0.95}, "encoding": {"y2": {"field": "y2"}}},
{"transform": [{"filter": "datum.id === 'g2'"}], "mark": {"type": "area", "color": "#c9c9c5"}, "encoding": {"y2": {"field": "y2"}}},
{"transform": [{"filter": "datum.id === 'tanband'"}], "mark": {"type": "area", "color": "#a8947e", "opacity": 0.4}, "encoding": {"y2": {"field": "y2"}}},
{"transform": [{"filter": "datum.id === 'kek'"}], "mark": {"type": "area", "color": "#8c6e5a", "opacity": 0.4}, "encoding": {"y2": {"field": "y2"}}},
{"transform": [{"filter": "datum.id === 'na48'"}], "mark": {"type": "area", "color": "#a66a9e", "opacity": 0.6}, "encoding": {"y2": {"field": "y2"}}},
{"transform": [{"filter": "datum.id === 'lhcb_light'"}], "mark": {"type": "area", "color": "#9c98cc"}, "encoding": {"y2": {"field": "y2"}, "detail": {"field": "seg"}}},
{"transform": [{"filter": "datum.id === 'babar'"}], "mark": {"type": "area", "color": "#a9d99a"}, "encoding": {"y2": {"field": "y2"}, "detail": {"field": "seg"}}},
{"transform": [{"filter": "datum.id === 'kloe'"}], "mark": {"type": "area", "color": "#7dc070"}, "encoding": {"y2": {"field": "y2"}}},
{"transform": [{"filter": "datum.id === 'hps'"}], "mark": {"type": "area", "color": "#b4b46a", "opacity": 0.7}, "encoding": {"y2": {"field": "y2"}}},
{"transform": [{"filter": "datum.id === 'a1'"}], "mark": {"type": "area", "color": "#c9c47a", "opacity": 0.8}, "encoding": {"y2": {"field": "y2"}}},
{"transform": [{"filter": "datum.id === 'apex'"}], "mark": {"type": "area", "color": "#b6c25e", "opacity": 0.85}, "encoding": {"y2": {"field": "y2"}}},
{"transform": [{"filter": "datum.id === 'cms'"}], "mark": {"type": "area", "color": "#5f8591", "opacity": 0.95}, "encoding": {"y2": {"field": "y2"}, "detail": {"field": "seg"}}},
{"transform": [{"filter": "datum.id === 'lhcb_dark'"}], "mark": {"type": "area", "color": "#6a68a8"}, "encoding": {"y2": {"field": "y2"}}},
{"transform": [{"filter": "datum.id === 'lhcb_disp'"}], "mark": {"type": "area", "color": "#9590c6"}, "encoding": {"y2": {"field": "y2"}, "detail": {"field": "seg"}}},
{"transform": [{"filter": "datum.id === 'na64'"}], "mark": {"type": "area", "color": "#f2a283", "opacity": 0.9}, "encoding": {"y2": {"field": "y2"}}},
{"transform": [{"filter": "datum.id === 'e141'"}], "mark": {"type": "area", "color": "#e8704f", "opacity": 0.7}, "encoding": {"y2": {"field": "y2"}}},
{"transform": [{"filter": "datum.id === 'e774'"}], "mark": {"type": "area", "color": "#e04a3a", "opacity": 0.65}, "encoding": {"y2": {"field": "y2"}}},
{"transform": [{"filter": "datum.id === 'stripe'"}], "mark": {"type": "area", "color": "#e8684e", "opacity": 0.5}, "encoding": {"y2": {"field": "y2"}}},
{"data": {"values": [
 {"x":0.005689,"y":5.62e-3,"label":"(g − 2)ₑ","g":"gray"},
 {"x":0.0307,"y":5.62e-3,"label":"HPS","g":"olive"},
 {"x":0.07133,"y":6.44e-3,"label":"A1","g":"olive"},
 {"x":0.1967,"y":6.44e-3,"label":"APEX","g":"olive"},
 {"x":0.1462,"y":3.38e-3,"label":"KLOE","g":"green"},
 {"x":0.1353,"y":1.72e-3,"label":"BaBar","g":"green"},
 {"x":0.02392,"y":1.31e-3,"label":"NA48/2","g":"purple"},
 {"x":0.004099,"y":6.89e-4,"label":"E774","g":"red"},
 {"x":0.01113,"y":2.49e-4,"label":"NA64","g":"red"},
 {"x":0.01013,"y":1.0e-4,"label":"E141","g":"red"},
 {"x":0.02014,"y":1.11e-5,"label":"KEK","g":"red"},
 {"x":0.04466,"y":5.44e-6,"label":"Orsay","g":"red"},
 {"x":0.08874,"y":2.67e-6,"label":"PS191","g":"teal"},
 {"x":0.04261,"y":1.72e-6,"label":"NOMAD","g":"teal"},
 {"x":0.09446,"y":5.44e-7,"label":"CHARM","g":"teal"},
 {"x":0.2647,"y":6.89e-7,"label":"ν-CAL I","g":"teal"},
 {"x":0.1353,"y":2.5e-7,"label":"E137","g":"red"},
 {"x":0.4642,"y":3.62e-5,"label":"LHCb","g":"navy"},
 {"x":0.3241,"y":6.44e-4,"label":"LHCb","g":"navy"},
 {"x":0.6646,"y":1.31e-3,"label":"KLOE","g":"green"},
 {"x":5.909,"y":1.5e-3,"label":"BaBar","g":"green"},
 {"x":16.05,"y":3.38e-3,"label":"LHCb","g":"navy"},
 {"x":44.25,"y":4.29e-3,"label":"CMS","g":"navy2"}
 ]},
 "mark": {"type": "text", "font": "Lato", "fontSize": 13, "fontWeight": "bold", "align": "center", "baseline": "middle"},
 "encoding": {"text": {"field": "label"}, "color": {"field": "g", "type": "nominal", "legend": null,
  "scale": {"domain": ["gray","olive","green","purple","red","teal","navy","navy2","dimuon","prompt","short","long","black","blue"],
            "range": ["#5a5a5a","#7a7838","#1e6b30","#5a2868","#5e1616","#1b6b68","#1f2360","#3d3d80","#7b5aa6","#c8254a","#1f2270","#3f2b20","#111111","#5d8db5"]}}}},
{"data": {"values": [{"x": 0.22, "y": 1e-7, "y2": 0.01}]}, "mark": {"type": "rule", "color": "#7a58aa", "strokeWidth": 3.5}, "encoding": {"y2": {"field": "y2"}}},
{"data": {"values": [{"x": 3.531, "y": 0.00187}]}, "mark": {"type": "point", "shape": "M -1 0 A 1 0.238 0 1 1 1 0 A 1 0.238 0 1 1 -1 0 Z", "size": 139876, "filled": false, "color": "#c8254a", "strokeWidth": 4, "opacity": 1}},
{"data": {"values": [{"x": 0.3292, "y": 2.53e-5}]}, "mark": {"type": "point", "shape": "circle", "size": 6221, "filled": false, "color": "#1c1f6e", "strokeWidth": 4, "opacity": 1}},
{"data": {"values": [{"x": 0.01922, "y": 1.53e-6}]}, "mark": {"type": "point", "shape": "M -1 0 A 1 0.524 0 1 1 1 0 A 1 0.524 0 1 1 -1 0 Z", "size": 82944, "filled": false, "color": "#3b2618", "strokeWidth": 4, "opacity": 1}},
{"data": {"values": [
 {"x":0.093,"y":2.18e-4,"label":"Dimuon","g":"dimuon"},
 {"x":0.093,"y":1.11e-4,"label":"threshold","g":"dimuon"},
 {"x":3.7,"y":2.11e-4,"label":"Prompt A′ decay.","g":"prompt"},
 {"x":3.7,"y":3.38e-5,"label":"Displaced vertex search,","g":"short"},
 {"x":3.643,"y":1.72e-5,"label":"short A′ decay length.","g":"short"},
 {"x":0.01322,"y":9.67e-7,"label":"Displaced vertex search,","g":"long"},
 {"x":0.01322,"y":4.75e-7,"label":"long A′ decay length.","g":"long"}
 ]},
 "mark": {"type": "text", "font": "DejaVu Serif", "fontSize": 15, "fontWeight": "bold", "align": "center", "baseline": "middle"},
 "encoding": {"text": {"field": "label"}, "color": {"field": "g", "type": "nominal", "legend": null,
  "scale": {"domain": ["gray","olive","green","purple","red","teal","navy","navy2","dimuon","prompt","short","long","black","blue"],
            "range": ["#5a5a5a","#7a7838","#1e6b30","#5a2868","#5e1616","#1b6b68","#1f2360","#3d3d80","#7b5aa6","#c8254a","#1f2270","#3f2b20","#111111","#5d8db5"]}}}},
{"data": {"values": [
 {"x":6.801,"y":6.22e-7,"label":"Minimal dark photon model","g":"black"},
 {"x":6.801,"y":2.5e-7,"label":"PRL 124 (2020) 041801","g":"blue"}
 ]},
 "mark": {"type": "text", "font": "DejaVu Serif", "fontSize": 15, "align": "center", "baseline": "middle"},
 "encoding": {"text": {"field": "label"}, "color": {"field": "g", "type": "nominal", "legend": null,
  "scale": {"domain": ["gray","olive","green","purple","red","teal","navy","navy2","dimuon","prompt","short","long","black","blue"],
            "range": ["#5a5a5a","#7a7838","#1e6b30","#5a2868","#5e1616","#1b6b68","#1f2360","#3d3d80","#7b5aa6","#c8254a","#1f2270","#3f2b20","#111111","#5d8db5"]}}}},
{"data": {"values": [{"x":1.184,"y":3.06e-3,"label":"CMS"}]},
 "mark": {"type": "text", "font": "Liberation Serif", "fontSize": 14, "fontWeight": "bold", "align": "left", "baseline": "middle", "color": "#111"},
 "encoding": {"text": {"field": "label"}}},
{"data": {"values": [{"x":2.077,"y":3.06e-3,"label":"JHEP 12(2023)070"}]},
 "mark": {"type": "text", "font": "Liberation Serif", "fontSize": 13.5, "align": "left", "baseline": "middle", "color": "#111"},
 "encoding": {"text": {"field": "label"}}}
]
}
